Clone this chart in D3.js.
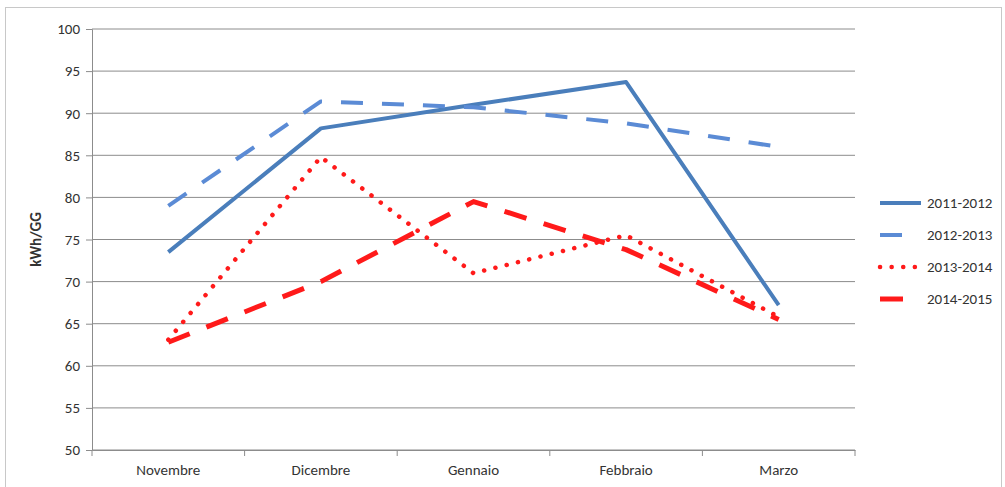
<!DOCTYPE html>
<html lang="it">
<head>
<meta charset="UTF-8">
<title>kWh/GG</title>
<script src="https://d3js.org/d3.v7.min.js"></script>
<style>
  body { margin: 0; background: #fff; }
  text { font-family: Carlito, Calibri, "Liberation Sans", sans-serif; fill: #333; }
</style>
</head>
<body>
<div id="chart"></div>
<script>
// mesi e stagioni
const months = ["Novembre", "Dicembre", "Gennaio", "Febbraio", "Marzo"];
const seasons = ["2011-2012", "2012-2013", "2013-2014", "2014-2015"];
const yTicks = [50, 55, 60, 65, 70, 75, 80, 85, 90, 95, 100];

const s2011 = [73.5, 88.2, 91.0, 93.7, 67.2];
const s2012 = [79.0, 91.4, 90.7, 88.8, 86.0];
const s2013 = [63.1, 84.8, 71.0, 75.5, 65.8];
const s2014 = [62.8, 70.0, 79.5, 73.8, 65.5];

const values = [s2011, s2012, s2013, s2014];
const colors = ["#4a7ebb", "#5b8bd5", "#ff1a1a", "#ff1a1a"];
const widths = [4, 4, 4.5, 5];
const dashes = [null, "22,19", "0.1,11.5", "23,18"];

const W = 1005, H = 487;
const mLeft = 92, mRight = 855, mTop = 29, mBottom = 450;
const fontSize = 15;

const svg = d3.select("#chart").append("svg")
    .attr("width", W).attr("height", H);

// cornice
svg.append("rect")
    .attr("x", 5.5).attr("y", 7.5)
    .attr("width", 996).attr("height", 490)
    .attr("fill", "none").attr("stroke", "#c8c8c8");

const x = d3.scaleBand().domain(months).range([mLeft, mRight]);
const y = d3.scaleLinear().domain([50, 100]).range([mBottom, mTop]);

// griglia
svg.append("g")
    .selectAll("line")
    .data(yTicks)
    .join("line")
    .attr("x1", mLeft).attr("x2", mRight)
    .attr("y1", d => y(d)).attr("y2", d => y(d))
    .attr("stroke", "#8c8c8c").attr("stroke-width", 1);

// asse y
const yAxis = svg.append("g")
    .attr("transform", `translate(${mLeft},0)`)
    .call(d3.axisLeft(y).tickValues(yTicks).tickSize(6).tickPadding(6));
yAxis.selectAll("line").attr("stroke", "#8c8c8c");
yAxis.select(".domain").attr("stroke", "#8c8c8c");
yAxis.selectAll("text").attr("font-size", fontSize).attr("font-family", "Carlito, Calibri, 'Liberation Sans', sans-serif").attr("fill", "#333");

// asse x
const xAxis = svg.append("g")
    .attr("transform", `translate(0,${mBottom})`)
    .call(d3.axisBottom(x).tickSize(0).tickPadding(14));
xAxis.select(".domain").attr("stroke", "#8c8c8c");
xAxis.selectAll("text").attr("font-size", fontSize).attr("font-family", "Carlito, Calibri, 'Liberation Sans', sans-serif").attr("fill", "#333");

// tacche tra le categorie
const edges = months.map(m => x(m)).concat([mRight]);
svg.append("g")
    .selectAll("line")
    .data(edges)
    .join("line")
    .attr("x1", d => d).attr("x2", d => d)
    .attr("y1", mBottom).attr("y2", mBottom + 6)
    .attr("stroke", "#8c8c8c");

// etichetta asse y
svg.append("text")
    .attr("transform", `translate(41,${(mTop + mBottom) / 2}) rotate(-90)`)
    .attr("text-anchor", "middle")
    .attr("font-size", fontSize)
    .attr("font-weight", "bold")
    .text("kWh/GG");

// linee
const line = d3.line()
    .x((d, i) => x(months[i]) + x.bandwidth() / 2)
    .y(d => y(d));

values.forEach((v, i) => {
    svg.append("path")
        .datum(v)
        .attr("d", line)
        .attr("fill", "none")
        .attr("stroke", colors[i])
        .attr("stroke-width", widths[i])
        .attr("stroke-dasharray", dashes[i])
        .attr("stroke-linecap", i === 2 ? "round" : "butt")
        .attr("stroke-linejoin", "round");
});

// legenda
const legend = svg.append("g").attr("transform", "translate(880,203)");
seasons.forEach((s, i) => {
    const g = legend.append("g").attr("transform", `translate(0,${i * 32})`);
    g.append("line")
        .attr("x1", 0).attr("x2", 41)
        .attr("y1", 0).attr("y2", 0)
        .attr("stroke", colors[i])
        .attr("stroke-width", widths[i])
        .attr("stroke-dasharray", dashes[i])
        .attr("stroke-linecap", i === 2 ? "round" : "butt");
    g.append("text")
        .attr("x", 47).attr("y", 5)
        .attr("font-size", fontSize)
        .text(s);
});
</script>
</body>
</html>
